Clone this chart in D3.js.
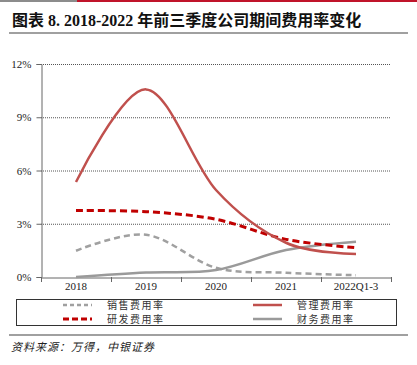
<!DOCTYPE html>
<html>
<head>
<meta charset="utf-8">
<script src="https://cdn.jsdelivr.net/npm/d3@7"></script>
<style>
  body { margin: 0; background: #fff; }
  svg { display: block; }
</style>
</head>
<body>
<svg id="chart" width="417" height="365"></svg>
<script>
// data
const categories = ['2018', '2019', '2020', '2021', '2022Q1-3'];
const salesRate = [1.48, 2.38, 0.52, 0.24, 0.1];    // 销售费用率
const adminRate = [5.35, 10.57, 4.9, 1.93, 1.3];    // 管理费用率
const rndRate = [3.74, 3.68, 3.25, 2.12, 1.65];     // 研发费用率
const finRate = [0.0, 0.25, 0.39, 1.52, 1.99];      // 财务费用率
const yTicks = [0, 3, 6, 9, 12];

const serif = '"Liberation Serif", "Times New Roman", "Noto Sans CJK SC", serif';
const cjk = '"Noto Sans CJK SC", sans-serif';

const svg = d3.select('#chart');

// top bar
svg.append('rect').attr('x', 0).attr('y', 0).attr('width', 77).attr('height', 2).attr('fill', '#8c8c8c');
svg.append('rect').attr('x', 77).attr('y', 0).attr('width', 340).attr('height', 2).attr('fill', '#c0142a');

// title
svg.append('text')
    .attr('x', 12).attr('y', 26)
    .style('font-family', serif)
    .style('font-size', '16px')
    .style('font-weight', 'bold')
    .attr('fill', '#111')
    .text('图表 8. 2018-2022 年前三季度公司期间费用率变化');
svg.append('rect').attr('x', 9).attr('y', 32).attr('width', 399).attr('height', 2).attr('fill', '#a0a0a0');

// scales
const x = d3.scaleBand().domain(categories).range([41, 391]).padding(0);
const y = d3.scaleLinear().domain([0, 12]).range([277, 64]);
const cx = c => x(c) + x.bandwidth() / 2;

// grid
svg.append('g')
    .selectAll('line')
    .data(yTicks.filter(d => d > 0))
    .join('line')
    .attr('x1', 41).attr('x2', 391)
    .attr('y1', d => y(d) + 0.5).attr('y2', d => y(d) + 0.5)
    .attr('stroke', '#555')
    .attr('stroke-width', 1)
    .attr('stroke-dasharray', '1,1');

// y axis
const yAxis = svg.append('g')
    .attr('transform', 'translate(41.5,0)')
    .call(d3.axisLeft(y).tickValues(yTicks).tickSize(5).tickPadding(5).tickFormat(d => d + '%'));
yAxis.select('.domain').attr('stroke', '#666');
yAxis.selectAll('.tick line').attr('stroke', '#666');
yAxis.selectAll('text').style('font-family', serif).style('font-size', '11px').attr('fill', '#222');

// x axis
const xAxis = svg.append('g')
    .attr('transform', 'translate(0,277.5)')
    .call(d3.axisBottom(x).tickSize(0).tickPadding(5).tickSizeOuter(0));
xAxis.select('.domain').attr('stroke', '#666');
xAxis.selectAll('text').style('font-family', serif).style('font-size', '11px').attr('fill', '#222');
const bounds = categories.map(c => x(c)).concat([x(categories[categories.length - 1]) + x.bandwidth()]);
svg.append('g')
    .selectAll('line')
    .data(bounds)
    .join('line')
    .attr('x1', d => Math.round(d) + 0.5).attr('x2', d => Math.round(d) + 0.5)
    .attr('y1', 277).attr('y2', 282)
    .attr('stroke', '#666');

// series
const series = [
  { name: '销售费用率', values: salesRate, color: '#a0a0a0', width: 2.5, dash: '6,4' },
  { name: '管理费用率', values: adminRate, color: '#c0504d', width: 2.5, dash: null },
  { name: '研发费用率', values: rndRate, color: '#c00000', width: 3, dash: '7,4' },
  { name: '财务费用率', values: finRate, color: '#9a9a9a', width: 2.5, dash: null }
];

const line = d3.line()
    .x((d, i) => cx(categories[i]))
    .y(d => y(d))
    .curve(d3.curveCardinal.tension(0));

const drawOrder = [0, 3, 2, 1];
drawOrder.forEach(k => {
  const s = series[k];
  svg.append('path')
      .datum(s.values)
      .attr('d', line)
      .attr('fill', 'none')
      .attr('stroke', s.color)
      .attr('stroke-width', s.width)
      .attr('stroke-dasharray', s.dash);
});

// legend
svg.append('rect')
    .attr('x', 16.5).attr('y', 299.5).attr('width', 380).attr('height', 26)
    .attr('fill', 'none').attr('stroke', '#333').attr('stroke-width', 1);

const legendPos = [
  { x: 63, y: 305 },
  { x: 253, y: 305 },
  { x: 63, y: 319 },
  { x: 253, y: 319 }
];
const legendDash = ['4,3', null, '6,3', null];
series.forEach((s, i) => {
  const p = legendPos[i];
  svg.append('line')
      .attr('x1', p.x).attr('x2', p.x + 29)
      .attr('y1', p.y).attr('y2', p.y)
      .attr('stroke', s.color)
      .attr('stroke-width', s.width)
      .attr('stroke-dasharray', legendDash[i]);
  svg.append('text')
      .attr('x', p.x + 44).attr('y', p.y + 4)
      .style('font-family', cjk)
      .style('font-size', '10px')
      .style('letter-spacing', '1.5px')
      .attr('fill', '#333')
      .text(s.name);
});

// footer
svg.append('rect').attr('x', 9).attr('y', 334).attr('width', 399).attr('height', 2).attr('fill', '#a0a0a0');
svg.append('text')
    .attr('x', 11).attr('y', 351)
    .style('font-family', cjk)
    .style('font-size', '11px')
    .style('font-style', 'italic')
    .style('letter-spacing', '1px')
    .attr('fill', '#222')
    .text('资料来源：万得，中银证券');
</script>
</body>
</html>
